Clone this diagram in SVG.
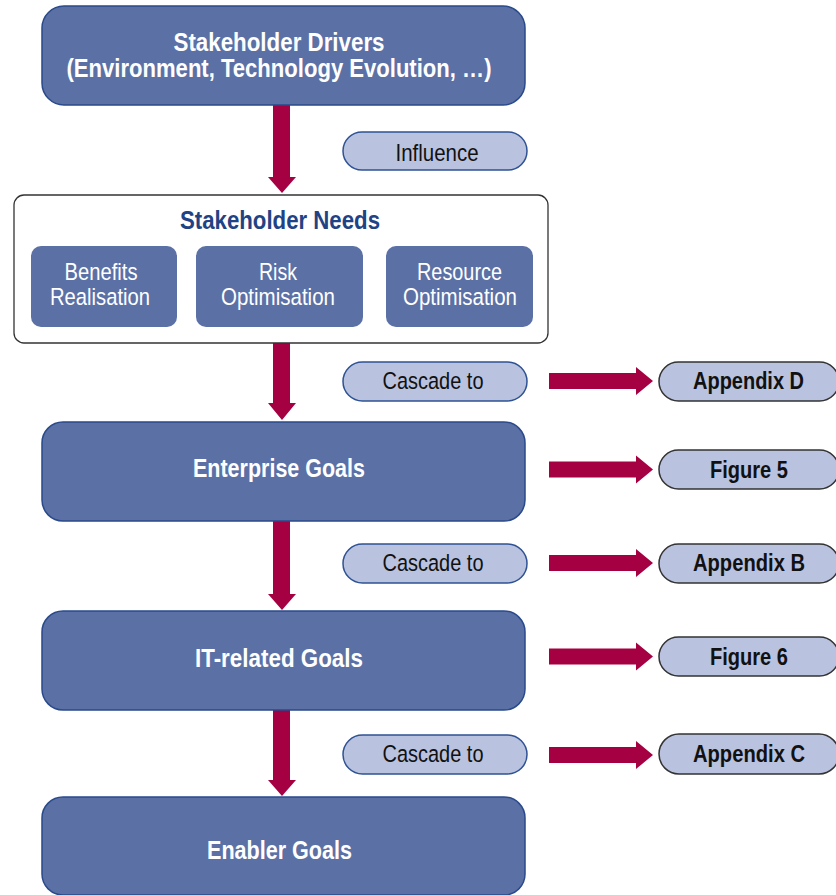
<svg xmlns="http://www.w3.org/2000/svg" width="836" height="895" viewBox="0 0 836 895">
<style>
.box{fill:#5B71A6;stroke:#2A4A8A;stroke-width:1.5}
.sub{fill:#5B71A6;stroke:none}
.pill{fill:#B9C2DE;stroke:#2F5294;stroke-width:1.5}
.ref{fill:#B9C2DE;stroke:#333333;stroke-width:1.5}
.arrow{fill:#A50042}
text{font-family:"Liberation Sans",Arial,sans-serif;text-anchor:middle}
.wb{fill:#FFFFFF;font-weight:bold;font-size:25.5px}
.wn{fill:#FFFFFF;font-size:24.5px}
.kn{fill:#111111;font-size:24.5px}
.kb{fill:#111111;font-weight:bold;font-size:23.5px}
.nb{fill:#1F4384;font-weight:bold;font-size:25px}
</style>
<rect width="836" height="895" fill="#FFFFFF"/>
<g id="connectors">
<path class="arrow" d="M273,105 H290 V177 H296 L282,193 L268,177 H273 Z"/>
<path class="arrow" d="M273,327 H290 V403 H296 L282,420 L268,403 H273 Z"/>
<path class="arrow" d="M273,521 H290 V594 H296 L282,610 L268,594 H273 Z"/>
<path class="arrow" d="M273,710 H290 V780 H296 L282,796 L268,780 H273 Z"/>
<path class="arrow" d="M549,373 H636 V367 L653,381 L636,395 V389 H549 Z"/>
<path class="arrow" d="M549,461.5 H636 V455.5 L653,469.5 L636,483.5 V477.5 H549 Z"/>
<path class="arrow" d="M549,555 H636 V549 L653,563 L636,577 V571 H549 Z"/>
<path class="arrow" d="M549,648.5 H636 V642.5 L653,656.5 L636,670.5 V664.5 H549 Z"/>
<path class="arrow" d="M549,747 H636 V741 L653,755 L636,769 V763 H549 Z"/>
</g>
<g id="stakeholder-drivers">
<rect class="box" x="42" y="6" width="483" height="99" rx="22"/>
<text class="wb" x="279" y="50.5" textLength="211" lengthAdjust="spacingAndGlyphs">Stakeholder Drivers</text>
<text class="wb" x="279" y="77" textLength="425" lengthAdjust="spacingAndGlyphs">(Environment, Technology Evolution, …)</text>
</g>
<g id="influence">
<rect class="pill" x="343" y="132" width="184" height="38" rx="19"/>
<text class="kn" x="437" y="160.5" textLength="83" lengthAdjust="spacingAndGlyphs">Influence</text>
</g>
<g id="stakeholder-needs">
<rect x="14" y="195" width="534" height="148" rx="10" fill="#FFFFFF" stroke="#333333" stroke-width="1.3"/>
<text class="nb" x="280" y="229" textLength="200" lengthAdjust="spacingAndGlyphs">Stakeholder Needs</text>
</g>
<g id="benefits-realisation">
<rect class="sub" x="31" y="246" width="146" height="81" rx="10"/>
<text class="wn" x="101" y="280" textLength="73" lengthAdjust="spacingAndGlyphs">Benefits</text>
<text class="wn" x="100" y="305" textLength="100" lengthAdjust="spacingAndGlyphs">Realisation</text>
</g>
<g id="risk-optimisation">
<rect class="sub" x="196" y="246" width="167" height="81" rx="10"/>
<text class="wn" x="278" y="280" textLength="38" lengthAdjust="spacingAndGlyphs">Risk</text>
<text class="wn" x="278" y="305" textLength="114" lengthAdjust="spacingAndGlyphs">Optimisation</text>
</g>
<g id="resource-optimisation">
<rect class="sub" x="386" y="246" width="147" height="81" rx="10"/>
<text class="wn" x="459.5" y="280" textLength="85" lengthAdjust="spacingAndGlyphs">Resource</text>
<text class="wn" x="460" y="305" textLength="114" lengthAdjust="spacingAndGlyphs">Optimisation</text>
</g>
<g id="cascade-1">
<rect class="pill" x="343" y="362" width="184" height="39" rx="19.5"/>
<text class="kn" x="433" y="389" textLength="101" lengthAdjust="spacingAndGlyphs">Cascade to</text>
</g>
<g id="appendix-d">
<rect class="ref" x="659" y="362" width="180" height="39" rx="19.5"/>
<text class="kb" x="748.5" y="389" textLength="111" lengthAdjust="spacingAndGlyphs">Appendix D</text>
</g>
<g id="enterprise-goals">
<rect class="box" x="42" y="422" width="483" height="99" rx="21"/>
<text class="wb" x="279" y="477" textLength="172" lengthAdjust="spacingAndGlyphs">Enterprise Goals</text>
</g>
<g id="figure-5">
<rect class="ref" x="659" y="450" width="180" height="39" rx="19.5"/>
<text class="kb" x="749" y="478" textLength="78" lengthAdjust="spacingAndGlyphs">Figure 5</text>
</g>
<g id="cascade-2">
<rect class="pill" x="343" y="544" width="184" height="39" rx="19.5"/>
<text class="kn" x="433" y="571" textLength="101" lengthAdjust="spacingAndGlyphs">Cascade to</text>
</g>
<g id="appendix-b">
<rect class="ref" x="659" y="544" width="180" height="39" rx="19.5"/>
<text class="kb" x="749" y="571" textLength="112" lengthAdjust="spacingAndGlyphs">Appendix B</text>
</g>
<g id="it-related-goals">
<rect class="box" x="42" y="611" width="483" height="99" rx="21"/>
<text class="wb" x="279" y="667" textLength="168" lengthAdjust="spacingAndGlyphs">IT-related Goals</text>
</g>
<g id="figure-6">
<rect class="ref" x="659" y="637" width="180" height="39" rx="19.5"/>
<text class="kb" x="749" y="665" textLength="78" lengthAdjust="spacingAndGlyphs">Figure 6</text>
</g>
<g id="cascade-3">
<rect class="pill" x="343" y="735" width="184" height="39" rx="19.5"/>
<text class="kn" x="433" y="762" textLength="101" lengthAdjust="spacingAndGlyphs">Cascade to</text>
</g>
<g id="appendix-c">
<rect class="ref" x="659" y="734" width="180" height="40" rx="20"/>
<text class="kb" x="749" y="762" textLength="112" lengthAdjust="spacingAndGlyphs">Appendix C</text>
</g>
<g id="enabler-goals">
<rect class="box" x="42" y="797" width="483" height="98" rx="21"/>
<text class="wb" x="279.5" y="859" textLength="145" lengthAdjust="spacingAndGlyphs">Enabler Goals</text>
</g>
</svg>
